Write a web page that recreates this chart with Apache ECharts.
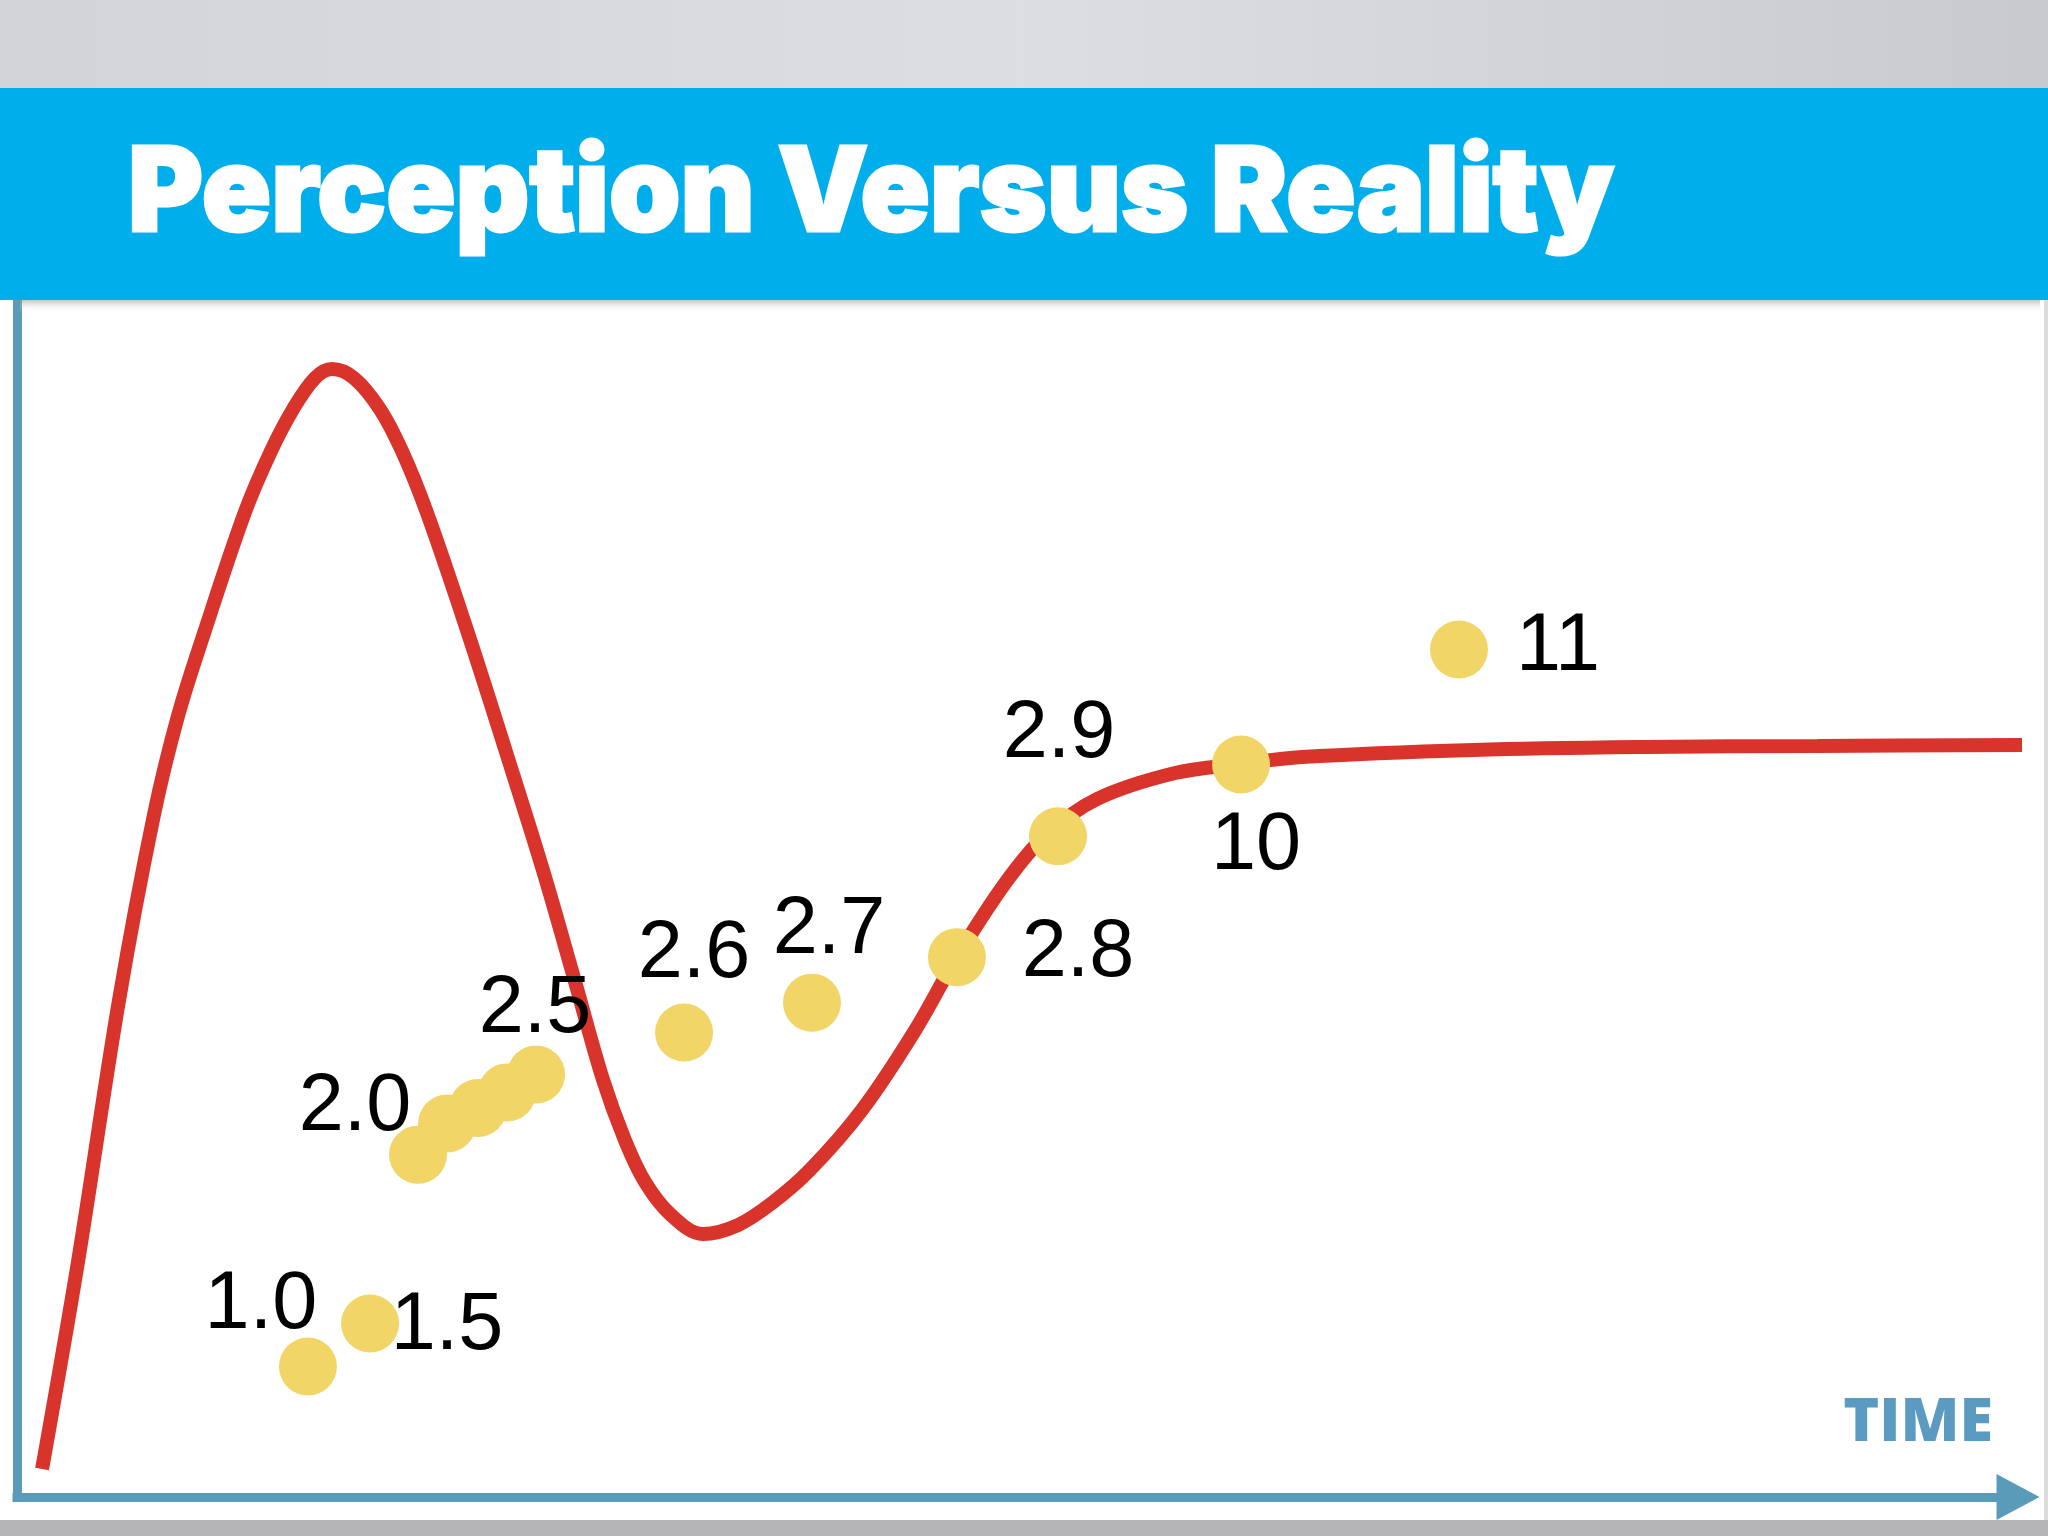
<!DOCTYPE html>
<html>
<head>
<meta charset="utf-8">
<script src="https://cdn.jsdelivr.net/npm/echarts@6/dist/echarts.min.js"></script>
<style>
html,body{margin:0;padding:0;background:#ffffff;}
#chart{width:2048px;height:1536px;}
</style>
</head>
<body>
<div id="chart"></div>
<script>
// ---------------- DATA ----------------
const titleText = 'Perception Versus Reality';
const axisName = 'TIME';

// Red hype curve: time (0-100) vs perception (0-100)
const curveTime = [1.25, 3.04, 5.09, 6.83, 8.03, 9.33, 11.37, 12.67, 13.77, 14.86, 15.71, 16.81, 18.10, 19.20, 20.45, 22.49, 24.39, 26.23, 27.88, 29.23, 30.32, 31.32, 32.57, 34.21, 35.96, 37.66, 39.55, 42.14, 44.74, 46.88, 49.33, 51.27, 53.87, 57.76, 61.05, 64.09, 72.67, 81.25, 89.83, 100];
const curvePerception = [2.34, 19.63, 41.52, 56.98, 65.25, 72.18, 82.29, 87.39, 90.89, 93.48, 94.24, 93.48, 90.89, 87.39, 82.21, 72.18, 62.24, 52.38, 42.77, 34.84, 29.82, 26.32, 23.64, 21.97, 22.72, 24.56, 27.32, 32.33, 38.85, 45.11, 51.38, 55.22, 58.31, 60.48, 61.24, 61.82, 62.41, 62.66, 62.74, 62.82];

// Yellow dots (versions)
const dotTime = [14.51, 17.61, 20.00, 21.45, 22.99, 24.44, 25.89, 33.27, 39.65, 46.88, 51.92, 61.05, 71.92];
const dotPerception = [10.9, 14.5, 28.6, 31.2, 32.5, 33.8, 35.3, 38.8, 41.3, 45.1, 55.2, 61.2, 70.8];
const dotLabels = ['1.0', '1.5', '2.0', '', '', '', '2.5', '2.6', '2.7', '2.8', '2.9', '10', '11'];

// ---------------- LAYOUT / STYLE ----------------
const labelOffset = {
  '1.0': [-47, -61], '1.5': [77, 3], '2.0': [-63, -47], '2.5': [-1, -65],
  '2.6': [10, -78], '2.7': [17, -72], '2.8': [121, -3], '2.9': [1, -102],
  '10': [15, 82], '11': [99, -2]
};
const axisColor = '#5a9bb9';
const G = { left: 17, top: 300, right: 2022, bottom: 1497 };

const chart = echarts.init(document.getElementById('chart'), null, { renderer: 'canvas' });

// measure title to condense it to the reference width
const titleFont = '900 117px Inter, Roboto, Lato, sans-serif';
const mctx = document.createElement('canvas').getContext('2d');
mctx.font = titleFont;
const titleW = mctx.measureText(titleText).width;
const titleScale = 1486 / titleW;

const curveData = curveTime.map((t, i) => [t, curvePerception[i]]);
const dotData = dotTime.map((t, i) => {
  const lab = dotLabels[i];
  return {
    value: [t, dotPerception[i]],
    name: lab,
    label: lab ? { show: true, offset: labelOffset[lab] } : { show: false }
  };
});

const option = {
  animation: false,
  backgroundColor: '#ffffff',
  grid: { left: G.left, top: G.top, width: G.right - G.left, height: G.bottom - G.top, containLabel: false },
  xAxis: {
    type: 'value', min: 0, max: 100,
    axisLine: {
      show: true, onZero: false,
      lineStyle: { color: axisColor, width: 9, cap: 'square' },
      symbol: ['none', 'triangle'], symbolSize: [46, 43], symbolOffset: [0, -4]
    },
    axisTick: { show: false }, axisLabel: { show: false }, splitLine: { show: false }
  },
  yAxis: {
    type: 'value', min: 0, max: 100,
    axisLine: { show: true, onZero: false, lineStyle: { color: axisColor, width: 9, cap: 'square' } },
    axisTick: { show: false }, axisLabel: { show: false }, splitLine: { show: false }
  },
  graphic: [
    { type: 'rect', z: 100, shape: { x: 0, y: 0, width: 2048, height: 88 },
      style: { fill: { type: 'linear', x: 0, y: 0, x2: 1, y2: 0, colorStops: [
        { offset: 0, color: '#d2d4d7' }, { offset: 0.5, color: '#dcdee1' }, { offset: 1, color: '#c9cacd' } ] } } },
    { type: 'rect', z: 100, shape: { x: 0, y: 88, width: 2048, height: 212 }, style: { fill: '#00aeec' } },
    { type: 'rect', z: 99, shape: { x: 20, y: 300, width: 2020, height: 12 },
      style: { fill: { type: 'linear', x: 0, y: 0, x2: 0, y2: 1, colorStops: [
        { offset: 0, color: 'rgba(150,150,150,0.55)' }, { offset: 1, color: 'rgba(255,255,255,0)' } ] } } },
    { type: 'text', z: 101, x: 128, y: 196, scaleX: titleScale,
      style: { text: titleText, font: titleFont, fill: '#ffffff', stroke: '#ffffff', lineWidth: 3,
        align: 'left', verticalAlign: 'middle' } },
    { type: 'text', z: 50, x: 1993, y: 1424,
      style: { text: axisName, font: '800 61px "Open Sans", Lato, sans-serif', fill: '#5b9bc2',
        align: 'right', verticalAlign: 'middle' } },
    { type: 'rect', z: 100, shape: { x: 0, y: 1520, width: 2048, height: 16 }, style: { fill: '#b5b5b7' } },
    { type: 'rect', z: 99, shape: { x: 2044, y: 300, width: 4, height: 1220 }, style: { fill: '#dcdcdc' } }
  ],
  series: [
    {
      type: 'line', data: curveData, smooth: 0.35, symbol: 'none', clip: false, z: 2,
      lineStyle: { color: '#d8342b', width: 14 }
    },
    {
      type: 'scatter', data: dotData, symbol: 'circle', symbolSize: 58, z: 3,
      itemStyle: { color: '#f1d567', opacity: 1 },
      label: {
        position: 'inside', formatter: '{b}', color: '#000000',
        fontFamily: '"Liberation Sans", Arial, sans-serif', fontSize: 81, fontWeight: 'normal'
      }
    }
  ]
};
chart.setOption(option);
</script>
</body>
</html>
